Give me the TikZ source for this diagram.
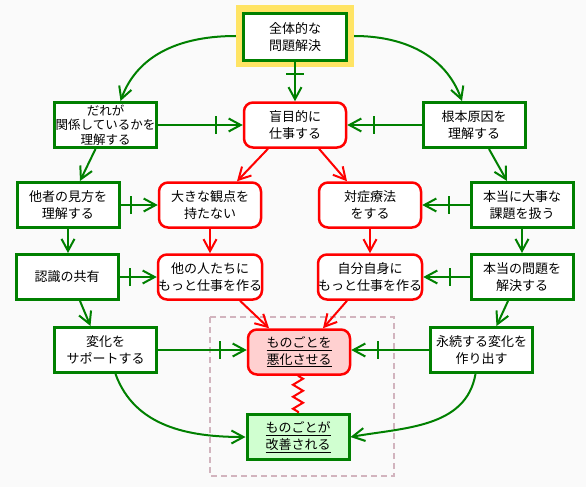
\documentclass[tikz,border=0pt]{standalone}
\usepackage{fontspec}
\newfontfamily\jpfont{Noto Sans CJK JP}
\usetikzlibrary{arrows.meta, decorations.markings, decorations.pathmorphing, positioning}
\definecolor{grn}{RGB}{0,128,0}
\definecolor{hiyel}{RGB}{255,228,100}
\definecolor{badfill}{RGB}{255,208,208}
\definecolor{goodfill}{RGB}{208,255,208}
\definecolor{dashcol}{RGB}{210,180,190}
\definecolor{bgcol}{RGB}{250,250,250}

\begin{document}
\begin{tikzpicture}[x=1pt, y=1pt,
  box/.style={font=\jpfont\fontsize{13}{16.5}\selectfont, align=center,
    minimum width=102pt, minimum height=45pt, inner sep=0pt, fill=white},
  gbox/.style={box, draw=grn, line width=3pt},
  rbox/.style={box, draw=red, line width=2.5pt, rounded corners=9pt},
  garrow/.style={draw=grn, line width=2pt, -{Straight Barb[length=12pt,width=13pt]}},
  rarrow/.style={draw=red, line width=2pt, -{Straight Barb[length=12pt,width=13pt]}},
  barred/.style={postaction={decorate, decoration={markings,
    mark=at position -27pt with {\draw[-, grn, line width=2pt] (0pt,-9pt) -- (0pt,9pt);}}}}]

\fill[bgcol] (0,0) rectangle (586,-487);
\draw[dashcol, line width=1.3pt, dash pattern=on 6pt off 4pt] (210,-317) rectangle (394,-476);

% top
\node [fill=hiyel, minimum width=118pt, minimum height=62pt, inner sep=0pt] (hilite) at (295,-36) {};
\node [gbox, minimum width=103pt, minimum height=47pt] (whole) at (295,-37) {全体的な\\問題解決};

% first row
\node [gbox, font=\jpfont\fontsize{12.5}{14.5}\selectfont] (dare) at (105.5,-125) {だれが\\関係しているかを\\理解する};
\node [rbox] (moku) at (295,-125) {盲目的に\\仕事する};
\node [gbox] (root) at (474,-125) {根本原因を\\理解する};

% second row
\node [gbox] (other) at (68,-205) {他者の見方を\\理解する};
\node [rbox] (big) at (210,-205) {大きな観点を\\持たない};
\node [rbox] (taisho) at (370,-205) {対症療法\\をする};
\node [gbox] (real) at (522,-205) {本当に大事な\\課題を扱う};

% third row
\node [gbox] (ninshiki) at (67,-277) {認識の共有};
\node [rbox] (hito) at (210,-277) {他の人たちに\\もっと仕事を作る};
\node [rbox] (jibun) at (370,-277) {自分自身に\\もっと仕事を作る};
\node [gbox] (mondai) at (522,-277) {本当の問題を\\解決する};

% bottom
\node [gbox] (henka) at (105.5,-350) {変化を\\サポートする};
\node [rbox, fill=badfill] (akka) at (299,-352) {\underline{ものごとを}\\\underline{悪化させる}};
\node [gbox] (eizoku) at (481.5,-350) {永続する変化を\\作り出す};
\node [gbox, fill=goodfill] (kaizen) at (298,-437) {\underline{ものごとが}\\\underline{改善される}};

% green connectors
\draw [garrow] (hilite.west) to[out=180,in=70] ([xshift=15pt]dare.north);
\draw [garrow] (hilite.east) to[out=0,in=110] ([xshift=-12pt]root.north);
\draw [garrow,barred] (whole) -- (moku);
\draw [garrow,barred] (dare) -- (moku);
\draw [garrow,barred] (root) -- (moku);
\draw [garrow] ([xshift=-10pt]dare.south) -- ([xshift=12pt]other.north);
\draw [garrow] ([xshift=15pt]root.south) -- ([xshift=-15pt]real.north);
\draw [garrow,barred] (other) -- (big);
\draw [garrow,barred] (real) -- (taisho);
\draw [garrow] (other.south) -- (other.south |- ninshiki.north);
\draw [garrow] (real) -- (mondai);
\draw [garrow,barred] (ninshiki) -- (hito);
\draw [garrow,barred] (mondai) -- (jibun);
\draw [garrow] ([xshift=13pt]ninshiki.south) -- ([xshift=-15pt]henka.north);
\draw [garrow] ([xshift=-14pt]mondai.south) -- ([xshift=15pt]eizoku.north);
\draw [garrow,barred] (henka) -- (henka -| akka.west);
\draw [garrow,barred] (eizoku) -- (eizoku -| akka.east);
\draw [garrow] ([xshift=10pt]henka.south) to[out=-70,in=180] (kaizen.west);
\draw [garrow] ([xshift=-6pt]eizoku.south) to[out=-100,in=10] (kaizen.east);

% red connectors
\draw [rarrow] ([xshift=-27pt]moku.south) -- ([xshift=27pt]big.north);
\draw [rarrow] ([xshift=24pt]moku.south) -- ([xshift=-23pt]taisho.north);
\draw [rarrow] (big) -- (hito);
\draw [rarrow] (taisho) -- (jibun);
\draw [rarrow] ([xshift=30pt]hito.south) -- ([xshift=-30pt]akka.north);
\draw [rarrow] ([xshift=-23pt]jibun.south) -- ([xshift=24pt]akka.north);
\draw [red, line width=2pt, decorate, decoration={zigzag, segment length=12pt, amplitude=5pt}]
  (kaizen.north |- akka.south) -- (kaizen.north);
\end{tikzpicture}
\end{document}
